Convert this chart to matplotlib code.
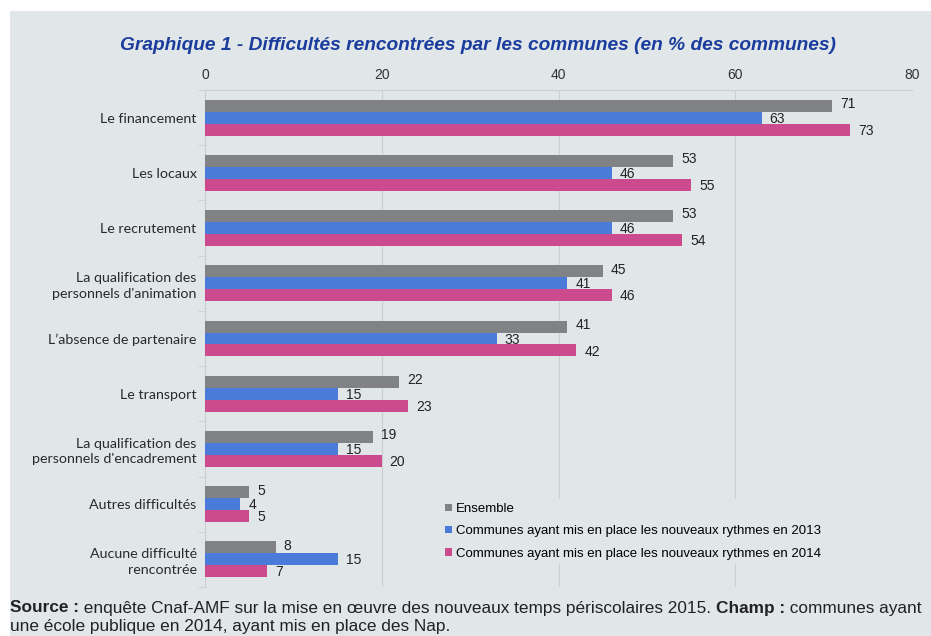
import matplotlib
matplotlib.use('Agg')
import matplotlib.pyplot as plt
from matplotlib.patches import Rectangle
import numpy as np

# data
categories = ["Le financement", "Les locaux", "Le recrutement",
              "La qualification des\npersonnels d'animation",
              "L\u2019absence de partenaire", "Le transport",
              "La qualification des\npersonnels d'encadrement",
              "Autres difficult\u00e9s", "Aucune difficult\u00e9\nrencontr\u00e9e"]
ensemble = [71, 53, 53, 45, 41, 22, 19, 5, 8]
communes_2013 = [63, 46, 46, 41, 33, 15, 15, 4, 15]
communes_2014 = [73, 55, 54, 46, 42, 23, 20, 5, 7]
series_names = ["Ensemble",
                "Communes ayant mis en place les nouveaux rythmes en 2013",
                "Communes ayant mis en place les nouveaux rythmes en 2014"]
xticks = [0, 20, 40, 60, 80]

colors = ['#808285', '#4a7bd8', '#cc4a8e']
panel = '#e1e6e9'
grid = '#c9cfd3'

fig = plt.figure(figsize=(9.31, 6.36), dpi=100)
fig.patches.append(Rectangle((10 / 931, 0), 1, 1 - 11 / 636, transform=fig.transFigure,
                             facecolor=panel, edgecolor='none', zorder=-10))

ax = fig.add_axes([205 / 931, 1 - 587 / 636, 707 / 931, (587 - 90) / 636])
ax.set_facecolor('none')
ax.set_zorder(1)

y = np.arange(len(categories))
h = 0.217
all_series = [ensemble, communes_2013, communes_2014]
dy_lab = [-0.03, 0.02, 0.02]
for i, (vals, c, name) in enumerate(zip(all_series, colors, series_names)):
    pos = y + (i - 1) * h
    ax.barh(pos, vals, height=h, color=c, label=name, zorder=3)
    for p, v in zip(pos, vals):
        ax.text(v + 0.9, p + dy_lab[i], str(v), va='center', ha='left',
                fontsize=10, family='Liberation Sans', color='#222222', zorder=4)

ax.set_xlim(0, 80)
ax.set_ylim(len(categories) - 0.5, -0.5)
ax.xaxis.tick_top()
ax.set_xticks(xticks)
ax.tick_params(axis='x', length=0, labelsize=10, labelcolor='#333333', pad=6)
for lab in ax.get_xticklabels():
    lab.set_family('Liberation Sans')
ax.grid(axis='x', color=grid, linewidth=0.8, zorder=0)

ax.set_yticks(y)
ax.set_yticklabels(categories, fontsize=10.3, family='Lato', color='#2a2a2a')
ax.set_yticks(np.arange(len(categories) + 1) - 0.5, minor=True)
ax.tick_params(axis='y', which='major', length=0, pad=6)
ax.tick_params(axis='y', which='minor', length=5, color=grid)
for lab in ax.get_yticklabels():
    lab.set_multialignment('right')
    lab.set_linespacing(1.35)

for s in ['right', 'bottom']:
    ax.spines[s].set_visible(False)
ax.spines['top'].set_color(grid)
ax.spines['left'].set_color(grid)

leg = ax.legend(loc='lower left', bbox_to_anchor=(0.325, 0.034), frameon=True,
                facecolor=panel, edgecolor='none', framealpha=1, fancybox=False,
                handlelength=0.5, handleheight=0.5, handletextpad=0.3,
                labelspacing=0.78, borderpad=0.3,
                prop={'family': 'Liberation Sans', 'size': 9.5})
leg.set_zorder(5)

fig.text(478 / 931, 1 - 46 / 636,
         "Graphique 1 - Difficult\u00e9s rencontr\u00e9es par les communes (en % des communes)",
         ha='center', va='center', fontsize=13.8, fontweight='bold', fontstyle='italic',
         family='Liberation Sans', color='#1a3c9c')

# footer with mixed bold / normal text
fig.canvas.draw()
renderer = fig.canvas.get_renderer()


def write_line(parts, x0, ypix):
    x = x0
    for txt, bold in parts:
        t = fig.text(x / 931, 1 - ypix / 636, txt, ha='left', va='center', fontsize=12.4,
                     family='Liberation Sans', color='#222222',
                     fontweight='bold' if bold else 'normal')
        x = t.get_window_extent(renderer).x1


write_line([("Source :", True),
            (" enqu\u00eate Cnaf-AMF sur la mise en \u0153uvre des nouveaux temps p\u00e9riscolaires 2015. ", False),
            ("Champ :", True), (" communes ayant", False)], 10, 608)
write_line([("une \u00e9cole publique en 2014, ayant mis en place des Nap.", False)], 10, 627)

fig.savefig('out.png', dpi=100)
